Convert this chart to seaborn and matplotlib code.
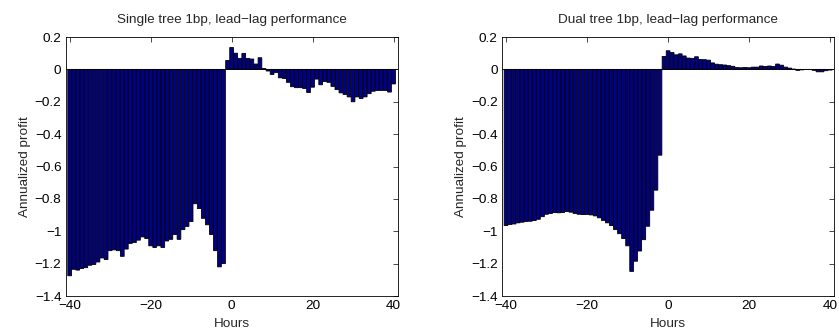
import matplotlib
matplotlib.use("Agg")
import matplotlib.pyplot as plt
import seaborn as sns
import pandas as pd

hours = list(range(-40, 41))

single_tree = [
    -1.275, -1.235, -1.24, -1.23, -1.225, -1.21, -1.205, -1.19, -1.165, -1.175,
    -1.12, -1.115, -1.12, -1.155, -1.11, -1.075, -1.07, -1.055, -1.035, -1.045,
    -1.09, -1.10, -1.09, -1.10, -1.06, -1.05, -1.02, -1.05, -0.99, -0.97,
    -0.94, -0.83, -0.86, -0.92, -0.96, -1.02, -1.12, -1.22, -1.20, 0.055,
    0.135, 0.10, 0.068, 0.099, 0.068, 0.064, 0.033, 0.072, 0.005, -0.01,
    -0.031, -0.019, -0.052, -0.056, -0.08, -0.107, -0.113, -0.113, -0.118, -0.143,
    -0.11, -0.06, -0.095, -0.075, -0.08, -0.105, -0.125, -0.145, -0.155, -0.17,
    -0.2, -0.17, -0.18, -0.17, -0.15, -0.135, -0.13, -0.13, -0.13, -0.14, -0.09,
]

dual_tree = [
    -0.965, -0.958, -0.955, -0.948, -0.944, -0.94, -0.938, -0.934, -0.926, -0.91,
    -0.895, -0.89, -0.885, -0.886, -0.884, -0.878, -0.882, -0.89, -0.895, -0.897,
    -0.896, -0.899, -0.905, -0.917, -0.933, -0.948, -0.965, -0.99, -1.015, -1.045,
    -1.09, -1.248, -1.185, -1.122, -1.052, -0.969, -0.87, -0.746, -0.53, 0.08,
    0.115, 0.104, 0.09, 0.096, 0.083, 0.07, 0.068, 0.078, 0.061, 0.06,
    0.057, 0.04, 0.032, 0.029, 0.027, 0.023, 0.019, 0.011, 0.01, 0.012,
    0.01, 0.014, 0.014, 0.021, 0.018, 0.021, 0.018, 0.033, 0.026, 0.014,
    0.008, 0.002, -0.006, -0.003, 0.0, 0.0, -0.006, -0.015, -0.015, -0.008, -0.004,
]

titles = ["Single tree 1bp, lead\u2212lag performance",
          "Dual tree 1bp, lead\u2212lag performance"]
x_label = "Hours"
y_label = "Annualized profit"
x_ticks = [-40, -20, 0, 20, 40]
x_tick_labels = ["\u221240", "\u221220", "0", "20", "40"]
y_ticks = [0.2, 0, -0.2, -0.4, -0.6, -0.8, -1.0, -1.2, -1.4]
y_tick_labels = ["0.2", "0", "\u22120.2", "\u22120.4", "\u22120.6", "\u22120.8",
                 "\u22121", "\u22121.2", "\u22121.4"]

sns.set_style("white")
plt.rcParams["font.family"] = ["Liberation Sans", "DejaVu Sans"]

FS = 9.7

fig = plt.figure(figsize=(8.39, 3.29), dpi=100)
ax1 = fig.add_axes([0.0782, 0.1003, 0.3957, 0.7872])
ax2 = fig.add_axes([0.5983, 0.1003, 0.3960, 0.7872])

bar_color = "#000088"

for ax, vals, title in [(ax1, single_tree, titles[0]), (ax2, dual_tree, titles[1])]:
    df = pd.DataFrame({"hour": hours, "profit": vals})
    sns.barplot(data=df, x="hour", y="profit", native_scale=True, width=0.92,
                color=bar_color, saturation=1, edgecolor="black", linewidth=0.6,
                errorbar=None, ax=ax)
    for p in ax.patches:
        p.set_snap(False)
    ax.axhline(0, color="black", lw=0.6, zorder=3)
    ax.set_xlim(-41, 41)
    ax.set_ylim(-1.4, 0.2)
    ax.set_xticks(x_ticks)
    ax.set_xticklabels(x_tick_labels)
    ax.set_yticks(y_ticks)
    ax.set_yticklabels(y_tick_labels)
    ax.tick_params(direction="in", top=True, right=True, length=3.5, width=0.5,
                   labelsize=FS, pad=3, colors="black")
    for s in ax.spines.values():
        s.set_visible(True)
        s.set_color("black")
        s.set_linewidth(0.6)
    ax.set_title(title, fontsize=FS, pad=10)
    ax.set_xlabel(x_label, fontsize=FS, labelpad=4)
    ax.set_ylabel(y_label, fontsize=FS, labelpad=3)

fig.savefig("out.png", dpi=100)
